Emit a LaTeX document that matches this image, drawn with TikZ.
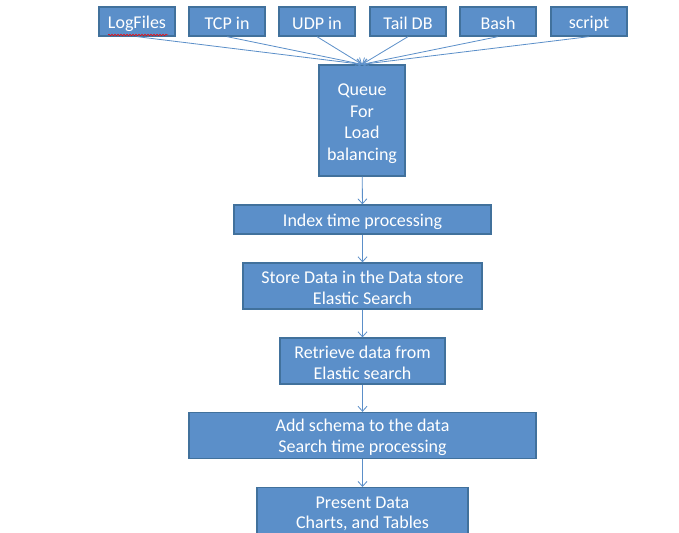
\documentclass[tikz,border=0pt]{standalone}
\usepackage{fontspec}
\setmainfont{Carlito}
\usetikzlibrary{arrows.meta,decorations.pathmorphing}
\definecolor{boxfill}{HTML}{5B8FC9}
\definecolor{boxline}{HTML}{41719C}
\definecolor{arrowc}{HTML}{5B8FC9}
\tikzset{
  box/.style={draw=boxline, line width=1.3pt, fill=boxfill, inner sep=0pt},
  srcbox/.style={box, minimum width=76pt, minimum height=29pt},
  lbl/.style={text=white, inner sep=0pt, align=center, font=\fontsize{18}{20.5}\selectfont},
  conn/.style={draw=arrowc, line width=0.8pt, -{Straight Barb[length=5pt,width=9pt]}},
}
\begin{document}
\begin{tikzpicture}[x=1pt,y=-1pt]
\useasboundingbox (0,0) rectangle (679,532);
\clip (0,0) rectangle (679,532);
\fill[white] (0,0) rectangle (679,532);
% sources
\node[srcbox] (logf) at (137,21.5) {};
\node[srcbox] (tcp) at (227,21.5) {};
\node[srcbox] (udp) at (317,21.5) {};
\node[srcbox] (tail) at (408,21.5) {};
\node[srcbox] (bash) at (498,21.5) {};
\node[srcbox] (scr) at (589,21.5) {};
\node[lbl] (logft) at ([yshift=-2pt]logf.center) {LogFiles};
\node[lbl] (tcpt) at ([yshift=-2pt]tcp.center) {TCP in};
\node[lbl] (udpt) at ([yshift=-2pt]udp.center) {UDP in};
\node[lbl] (tailt) at ([yshift=-2pt]tail.center) {Tail DB};
\node[lbl] (basht) at ([yshift=-2pt]bash.center) {Bash};
\node[lbl] (scrt) at ([yshift=-2pt]scr.center) {script};
\draw[red, line width=0.5pt, decorate, decoration={snake, amplitude=0.8pt, segment length=3pt}] (108,35) -- (168,35);
% queue
\node[box, minimum width=86pt, minimum height=111pt] (queue) at (362,120.5) {};
\node[lbl, font=\fontsize{18}{21.5}\selectfont] (queuet) at ([yshift=-3pt]queue.center) {Queue\\For\\Load\\balancing};
\foreach \s in {logf,tcp,udp,tail,bash,scr}
  \draw[conn] (\s.south) -- (queue.north);
% chain
\node[box, minimum width=257pt, minimum height=29pt] (index) at (362.5,219.5) {};
\node[lbl] (indext) at ([yshift=-2pt]index.center) {Index time processing};
\node[box, minimum width=239pt, minimum height=46pt] (store) at (362.5,286) {};
\node[lbl] (storet) at ([yshift=-2pt]store.center) {Store Data in the Data store\\Elastic Search};
\node[box, minimum width=165pt, minimum height=46pt] (retr) at (362.5,361) {};
\node[lbl] (retrt) at ([yshift=-2pt]retr.center) {Retrieve data from\\Elastic search};
\node[box, minimum width=347pt, minimum height=46pt] (schema) at (362.5,435.5) {};
\node[lbl] (schemat) at ([yshift=-2pt]schema.center) {Add schema to the data\\Search time processing};
\node[box, minimum width=211pt, minimum height=62pt, anchor=north] (pres) at (362.5,487) {};
\node[lbl] (prest) at (362.5,514) {Present Data\\Charts, and Tables};
\draw[conn] (queue) -- (index);
\draw[conn] (index) -- (store);
\draw[conn] (store) -- (retr);
\draw[conn] (retr) -- (schema);
\draw[conn] (schema) -- (pres);
\end{tikzpicture}
\end{document}
